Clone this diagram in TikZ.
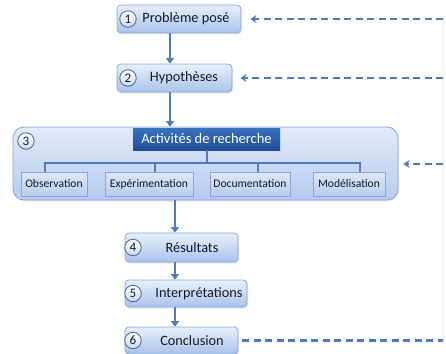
\documentclass[tikz,border=0pt]{standalone}
\usepackage{fontspec}
\setmainfont{Carlito}
\usetikzlibrary{arrows.meta,shadows}
\definecolor{boxtop}{HTML}{E8EFFB}
\definecolor{boxbot}{HTML}{A9C3EC}
\definecolor{boxborder}{HTML}{8AA6D8}
\definecolor{bigtop}{HTML}{E2EAF8}
\definecolor{bigbot}{HTML}{B5CBEF}
\definecolor{arrowc}{HTML}{4F7BBE}
\definecolor{hdrtop}{HTML}{3A72BE}
\definecolor{hdrbot}{HTML}{1F4F96}
\definecolor{subtop}{HTML}{DDE7F7}
\definecolor{subbot}{HTML}{B8CDEF}
\definecolor{subborder}{HTML}{8BA6D4}
\definecolor{numbot}{HTML}{C9D8F0}
\definecolor{numborder}{HTML}{5A6F95}
\definecolor{txt}{HTML}{141A28}
\definecolor{faint}{HTML}{EDF1F8}
\tikzset{
  pbox/.style={draw=boxborder, line width=0.8pt, rounded corners=4pt,
    top color=boxtop, bottom color=boxbot,
    drop shadow={opacity=0.18, shadow xshift=1pt, shadow yshift=-1.5pt}},
  bigbox/.style={draw=boxborder, line width=0.8pt, rounded corners=11pt,
    top color=bigtop, bottom color=bigbot,
    drop shadow={opacity=0.18, shadow xshift=1pt, shadow yshift=-1.5pt}},
  hdr/.style={fill=hdrbot, top color=hdrtop, bottom color=hdrbot, text=white,
    font=\fontsize{14.5}{15}\selectfont, inner sep=0pt},
  subbox/.style={draw=subborder, line width=0.7pt, top color=subtop, bottom color=subbot,
    minimum height=24pt, inner sep=0pt, text=txt, font=\fontsize{11.6}{12}\selectfont,
    drop shadow={opacity=0.15, shadow xshift=0.8pt, shadow yshift=-1pt}},
  lbl/.style={text=txt, font=\fontsize{14.3}{15}\selectfont, inner sep=0pt},
  numc/.style={circle, draw=numborder, line width=0.9pt, inner sep=0pt, minimum size=16.5pt,
    top color=white, bottom color=numbot, text=txt, font=\fontsize{13}{13}\selectfont},
  flow/.style={draw=arrowc, line width=2pt, -{Triangle[length=5.5pt,width=8pt]}},
  tree/.style={draw=arrowc, line width=2pt},
  fb/.style={draw=arrowc, line width=2.2pt, dash pattern=on 7pt off 4.5pt,
    -{Stealth[length=6pt,width=8pt]}},
  fbline/.style={draw=arrowc, line width=2.2pt, dash pattern=on 7pt off 4.5pt},
}
\begin{document}
\begin{tikzpicture}[x=1pt,y=1pt]
\useasboundingbox (0,0) rectangle (446,-353);
% step 1
\node[pbox, minimum width=124pt, minimum height=28pt] (b1) at (179,-19) {};
\node[numc] (n1) at (128,-19) {1};
\node[lbl] (t1) at (186,-19) {Problème posé};
% step 2
\node[pbox, minimum width=115pt, minimum height=28pt] (b2) at (174.5,-78) {};
\node[numc] (n2) at (128,-78) {2};
\node[lbl] (t2) at (184,-78) {Hypothèses};
% step 3
\node[bigbox, minimum width=385pt, minimum height=73pt] (b3) at (205.5,-163.5) {};
\node[numc] (n3) at (26,-141) {3};
\node[hdr, minimum width=147pt, minimum height=22pt] (h) at (206.5,-139) {Activités de recherche};
\node[subbox, minimum width=66pt] (s1) at (54,-184) {Observation};
\node[subbox, minimum width=88pt] (s2) at (149,-184) {Expérimentation};
\node[subbox, minimum width=80pt] (s3) at (250,-184) {Documentation};
\node[subbox, minimum width=72pt] (s4) at (349,-184) {Modélisation};
\coordinate (j) at (206.5,-163);
\draw[tree] (h.south) -- (j);
\draw[tree] (45,0 |- s1.north) -- (45,-163) -- (360,-163) -- (360,0 |- s4.north);
\draw[tree] (155,-163) -- (155,0 |- s2.north);
\draw[tree] (258,-163) -- (258,0 |- s3.north);
% step 4
\node[pbox, minimum width=113pt, minimum height=29pt] (b4) at (181.5,-247.5) {};
\node[numc] (n4) at (133,-247.5) {4};
\node[lbl] (t4) at (192,-247.5) {Résultats};
% step 5
\node[pbox, minimum width=122pt, minimum height=27pt] (b5) at (186,-293.5) {};
\node[numc] (n5) at (133,-293.5) {5};
\node[lbl] (t5) at (199,-293.5) {Interprétations};
% step 6
\node[pbox, minimum width=113pt, minimum height=27pt] (b6) at (181.5,-340.5) {};
\node[numc] (n6) at (133,-340.5) {6};
\node[lbl] (t6) at (192,-340.5) {Conclusion};
% flow arrows
\draw[flow] (170,0 |- b1.south) -- (170,0 |- b2.north);
\draw[flow] (170,0 |- b2.south) -- (170,0 |- b3.north);
\draw[flow] (175,0 |- b3.south) -- (175,0 |- b4.north);
\draw[flow] (175,0 |- b4.south) -- (175,0 |- b5.north);
\draw[flow] (175,0 |- b5.south) -- (175,0 |- b6.north);
% feedback
\coordinate (r1) at (443,-19);
\coordinate (r2) at (443,-78);
\coordinate (r3) at (443,-164);
\coordinate (r6) at (443,-340.5);
\draw[faint, line width=1pt] (r1) -- (r6);
\draw[fb, shorten >=9pt] (r1) -- (b1.east);
\draw[fb, shorten >=8pt] (r2) -- (b2.east);
\draw[fb, shorten >=5pt] (r3) -- (b3.east |- r3);
\draw[fbline, shorten <=4pt] (b6.east) -- (r6);
\end{tikzpicture}
\end{document}
